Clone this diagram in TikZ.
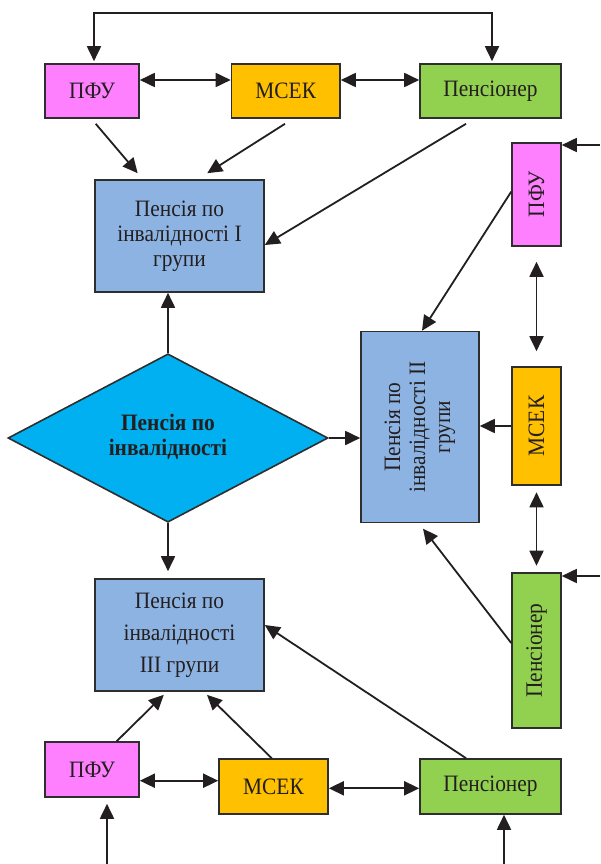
\documentclass[tikz,border=0pt]{standalone}
\usepackage{fontspec}
\setmainfont{Liberation Serif}[FakeStretch=0.91]
\usetikzlibrary{arrows.meta,calc,shapes.geometric}
\definecolor{pfuc}{HTML}{FF80FF}
\definecolor{msekc}{HTML}{FFC000}
\definecolor{pensc}{HTML}{92D050}
\definecolor{bluec}{HTML}{8DB3E2}
\definecolor{diac}{HTML}{00B0F0}
\definecolor{ink}{HTML}{231F20}
\definecolor{edge}{HTML}{2E2E2E}
\tikzset{
  basebox/.style={draw=edge, line width=1.6pt, inner sep=0pt, align=center,
    text=ink, font=\fontsize{23.5}{25}\selectfont},
  pfubox/.style={basebox, fill=pfuc},
  msekbox/.style={basebox, fill=msekc},
  pensbox/.style={basebox, fill=pensc},
  pensionbox/.style={basebox, fill=bluec},
  decbox/.style={diamond, draw=edge, line width=1.6pt, fill=diac, inner sep=0pt,
    align=center, text=ink, font=\fontsize{23.5}{25}\selectfont\bfseries},
  conn/.style={draw=ink, line width=1.8pt, -{Triangle[length=15pt,width=14pt]}},
  dconn/.style={draw=ink, line width=1.8pt, {Triangle[length=15pt,width=14pt]}-{Triangle[length=15pt,width=14pt]}},
}
\begin{document}
\begin{tikzpicture}[x=1pt,y=-1pt]
\useasboundingbox (0,0) rectangle (600,864);
\fill[white] (0,0) rectangle (600,864);
% top row
\node[pfubox, minimum width=94pt, minimum height=54pt] (pfu1) at (92,91) {ПФУ};
\node[msekbox, minimum width=108.5pt, minimum height=54pt] (msek1) at (285.75,91) {МСЕК};
\node[pensbox, minimum width=141pt, minimum height=54pt] (pens1) at (490.5,91) {Пенсіонер};
% pension boxes
\node[pensionbox, minimum width=169pt, minimum height=112pt] (boxI) at (179.5,236)
  {\raisebox{6pt}{\begin{tabular}{@{}c@{}}Пенсія по\\інвалідності І\\групи\end{tabular}}};
\node[pensionbox, minimum width=118pt, minimum height=191pt] (boxII) at (420,427)
  {\rotatebox{90}{\raisebox{3pt}{\begin{tabular}{@{}c@{}}Пенсія по\\інвалідності ІІ\\групи\end{tabular}}}};
\node[pensionbox, minimum width=169pt, minimum height=112pt,
  font=\fontsize{23.5}{32}\selectfont] (boxIII) at (179.5,635)
  {Пенсія по\\інвалідності\\ІІІ групи};
% diamond
\node[decbox, minimum width=320pt, minimum height=168pt] (dia) at (168,438)
  {\raisebox{4pt}{\begin{tabular}{@{}c@{}}Пенсія по\\інвалідності\end{tabular}}};
% right column
\node[pfubox, minimum width=49pt, minimum height=103pt] (pfu2) at (536.5,194.5) {\rotatebox{90}{ПФУ}};
\node[msekbox, minimum width=49pt, minimum height=118pt] (msek2) at (536.5,426) {\rotatebox{90}{МСЕК}};
\node[pensbox, minimum width=49pt, minimum height=155pt] (pens2) at (536.5,650.5) {\rotatebox{90}{Пенсіонер}};
% bottom row
\node[pfubox, minimum width=94pt, minimum height=55pt] (pfu3) at (92,769.5) {ПФУ};
\node[msekbox, minimum width=109pt, minimum height=55pt] (msek3) at (273.5,786.5) {МСЕК};
\node[pensbox, minimum width=141pt, minimum height=55pt] (pens3) at (490.5,786.5) {Пенсіонер};

% free-end coordinates
\coordinate (toploop) at (300,13);
\coordinate (rin1) at (600,145);
\coordinate (rin2) at (600,576);
\coordinate (bin1) at (107,864);
\coordinate (bin2) at (504,864);

% top loop
\draw[dconn, shorten <=2pt, shorten >=2pt] ($(pfu1.north)+(2,0)$) |- (toploop) -| ($(pens1.north)+(1.5,0)$);
% top row links
\path ($(pfu1.east)+(0,-11)$) coordinate (t1);
\draw[dconn] (t1) -- (t1 -| msek1.west);
\path ($(msek1.east)+(0,-11)$) coordinate (t2);
\draw[dconn] (t2) -- (t2 -| pens1.west);
% to box I
\draw[conn] ($(pfu1.south)+(3.7,5)$) -- ($(boxI.north west)+(43.5,-6)$);
\draw[conn] ($(msek1.south)+(-0.75,5)$) -- ($(boxI.north west)+(113,-6)$);
\draw[conn] ($(pens1.south)+(-24.5,5)$) -- ($(boxI.east)+(0,9)$);
% diamond outputs
\draw[conn] (dia.north) -- (dia.north |- boxI.south);
\draw[conn] (dia.east) -- (dia.east -| boxII.west);
\draw[conn, shorten >=7pt] (dia.south) -- (dia.south |- boxIII.north);
% right column
\draw[conn] (rin1) -- (rin1 -| pfu2.east);
\draw[conn] ($(pfu2.west)+(0,-2.8)$) -- ($(boxII.north)+(2,0)$);
\draw[dconn, shorten <=15pt, shorten >=15pt] (pfu2.south) -- (msek2.north);
\draw[conn] (msek2.west) -- (msek2.west -| boxII.east);
\draw[dconn, shorten <=6.5pt, shorten >=6.5pt] (msek2.south) -- (pens2.north);
\draw[conn] (rin2) -- (rin2 -| pens2.east);
\draw[conn] ($(pens2.west)+(0,-7.5)$) -- ($(boxII.south)+(3,5.3)$);
% to box III
\draw[conn] ($(pfu3.north)+(24.7,0)$) -- ($(boxIII.south west)+(69.6,3)$);
\draw[conn] ($(msek3.north)+(-1.8,0)$) -- ($(boxIII.south west)+(112.8,3)$);
\draw[conn] ($(pens3.north)+(-24.5,0)$) -- ($(boxIII.east)+(0,-10)$);
% bottom row links
\path ($(pfu3.east)+(0,11.2)$) coordinate (b1);
\draw[dconn] (b1) -- (b1 -| msek3.west);
\path ($(msek3.east)+(0,1.8)$) coordinate (b2);
\draw[dconn] (b2) -- (b2 -| pens3.west);
% bottom inputs
\draw[conn, shorten >=6pt] (bin1) -- (bin1 |- pfu3.south);
\draw[conn] (bin2) -- (bin2 |- pens3.south);
\end{tikzpicture}
\end{document}
